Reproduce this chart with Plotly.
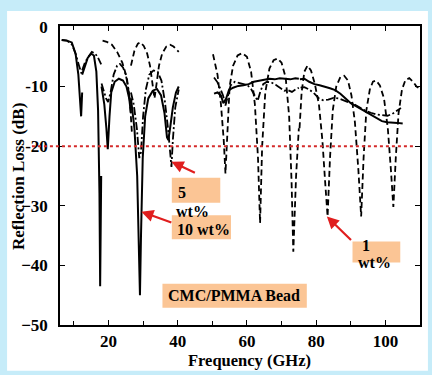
import plotly.graph_objects as go

# ---------------- data ----------------
# 1 wt% (dashed)
f_1wt = [18.3, 19.5, 21.0, 22.5, 24.0, 25.3, 26.2, 26.8, None,
         26.5, 27.5, 28.5, 29.2, 30.2, 31.2, 32.0, 32.7, 33.3, 33.9, 34.6, 35.5, 36.7, 37.8, 38.8, 40.3, None,
         50.2, 51.5, 52.5, 53.3, 53.8, 54.3, 55.0, 56.0, 57.3, 58.6, 60.0, 61.2, 62.3, 63.2, 63.8, 64.4, 65.3,
         66.5, 67.7, 68.9, 70.0, 71.2, 72.2, 72.9, 73.4, 74.2, 75.0, None,
         75.2, 75.8, 76.6, 77.5, 78.5, 79.6, 80.8, 81.8, 82.6, 83.3, 84.0, 84.8, 85.8, 87.0, 88.1, 89.2, 90.2,
         91.2, 92.2, 93.0, 93.7, 94.5, 95.5, 96.4, 97.3, 98.4, 99.6, 100.7, 101.6, 102.3, 103.0, 103.8, 104.8,
         105.8, 106.9, 108.0, 109.0, 110.0]
rl_1wt = [-2.3, -2.5, -3.0, -4.2, -6.0, -8.5, -12.5, -18.0, None,
          -6.5, -4.0, -2.8, -2.6, -3.2, -4.5, -6.5, -9.5, -12.0, -9.5, -6.5, -4.5, -3.3, -3.0, -3.3, -4.2, None,
          -4.6, -8.0, -13.0, -19.0, -24.6, -18.0, -10.0, -6.5, -4.8, -4.4, -5.0, -7.5, -13.0, -22.0, -32.9, -20.0, -11.0,
          -7.0, -5.6, -5.3, -6.0, -8.5, -15.0, -26.0, -37.7, -25.0, -17.0, None,
          -17.0, -11.0, -7.5, -6.5, -7.3, -9.5, -13.0, -19.0, -26.0, -31.8, -22.0, -14.0, -10.0, -8.4, -8.2, -9.0, -11.5,
          -16.0, -24.0, -31.8, -22.0, -14.0, -10.5, -9.2, -9.0, -9.8, -12.0, -17.0, -24.0, -30.2, -22.0, -14.5, -10.5,
          -8.9, -8.6, -9.2, -10.0, -10.4]

# 5 wt% (dash-dot)
f_5wt = [6.5, 8.0, 9.5, 10.5, 11.5, 12.2, 12.4, None,
         12.4, 13.2, 14.2, 15.2, 16.2, 17.0, 17.9, None,
         18.0, 18.6, 19.3, 19.9, 20.6, 21.5, 22.5, 23.3, 24.2, 25.0, 25.8, 26.5, None,
         26.5, 27.3, 28.2, 28.9, 29.4, 30.0, 30.8, 31.8, 33.0, 34.2, 35.3, 36.3, 37.2, 37.8, 38.2, 38.6, 39.3, 40.3, None,
         50.5, 51.5, 52.4, 53.1, 53.8, 54.5, 55.3, 56.5, 57.8, 59.0, 60.2, 61.3, 62.3, 63.1, 63.8, 64.7, 65.8,
         67.0, 68.3, 69.6, 70.8, 71.8, 73.0, 74.0, 75.0, None,
         75.5, 76.6, 78.0, 79.5, 80.8, 82.0, 83.5, 85.0, 86.5, 88.0, 89.5, 91.0, 92.5, 94.0, 95.8, 97.5, 99.0,
         100.6, 102.0, 103.2, 104.5]
rl_5wt = [-2.2, -2.3, -3.0, -4.5, -6.5, -7.8, -7.5, None,
          -7.3, -6.0, -5.0, -4.2, -4.5, -5.2, -6.3, None,
          -9.5, -10.5, -12.0, -12.6, -11.0, -8.0, -6.5, -6.2, -6.8, -8.0, -10.5, -14.0, None,
          -11.0, -13.0, -17.0, -22.0, -21.0, -15.0, -10.5, -8.0, -7.3, -7.5, -9.0, -12.5, -17.0, -21.0, -23.5, -19.0, -13.5, -10.5, None,
          -8.5, -9.3, -10.5, -11.5, -13.2, -11.5, -9.8, -9.2, -9.4, -9.5, -9.8, -10.5, -11.5, -12.4, -11.0, -9.6, -9.2,
          -9.3, -9.7, -10.2, -10.7, -10.6, -10.9, -10.5, -10.2, None,
          -10.2, -10.1, -10.5, -11.2, -12.0, -12.3, -12.2, -11.9, -12.0, -12.3, -12.6, -13.0, -13.5, -14.0, -14.4, -14.7, -14.8,
          -14.9, -14.6, -14.1, -13.6]

# 10 wt% (solid)
f_10wt = [6.5, 8.0, 9.4, 10.5, 11.3, 11.8, 12.1, 12.4, None,
          12.4, 13.2, 14.0, 15.0, 15.8, 16.5, 17.0, 17.4, 17.6, 17.9, None,
          18.0, 18.8, 19.4, 19.8, 20.3, 20.8, 21.8, 23.0, 24.2, 25.2, 26.0, 26.5, None,
          26.5, 27.5, 28.3, 28.8, 29.1, 29.4, 29.9, 30.6, 31.5, 32.8, 34.0, 35.2, 36.2, 36.9, 37.3, 37.8, 38.6, 39.5, 40.3, None,
          50.5, 51.5, 52.5, 53.2, 54.0, 54.8, 56.0, 57.5, 59.0, 60.5, 62.0, 63.5, 65.0, 66.5, 68.0, 69.5, 71.0,
          72.5, 74.0, 75.0, None,
          75.3, 76.6, 78.0, 79.5, 81.0, 82.5, 84.0, 85.5, 87.0, 88.5, 90.0, 91.5, 93.0, 94.5, 96.0, 97.5, 99.0,
          100.5, 102.0, 103.5, 105.0]
rl_10wt = [-2.2, -2.3, -2.6, -4.5, -8.0, -12.0, -15.0, -11.0, None,
           -8.0, -6.5, -5.2, -4.5, -4.8, -7.5, -14.0, -28.0, -43.5, -25.0, None,
           -10.0, -13.0, -17.0, -20.5, -15.0, -11.0, -9.2, -8.7, -9.0, -10.0, -12.0, -14.5, None,
           -12.0, -17.0, -25.0, -38.0, -45.0, -35.0, -22.0, -15.0, -12.0, -10.7, -10.4, -11.5, -14.5, -18.5, -19.0, -17.0, -13.5, -11.0, -10.0, None,
           -11.2, -11.0, -11.5, -12.8, -12.0, -10.6, -10.2, -9.9, -9.8, -9.6, -9.2, -9.0, -8.8, -8.7, -8.8, -8.6, -8.7,
           -8.8, -8.6, -8.7, None,
           -8.8, -8.7, -9.2, -9.6, -9.8, -10.0, -10.3, -10.6, -11.2, -12.0, -12.8, -13.3, -13.8, -14.3, -14.8, -15.3, -15.8,
           -16.0, -16.0, -16.1, -16.2]

threshold_db = -20
y_tickvals = [0, -10, -20, -30, -40, -50]
y_ticktext = ["0", "-10", "-20", "\u221230", "\u221240", "\u221250"]
x_tickvals = [20, 40, 60, 80, 100]
x_ticktext = ["20", "40", "60", "80", "100"]

# ---------------- figure ----------------
SERIF = "Liberation Serif"
fig = go.Figure()

fig.add_trace(go.Scatter(x=f_1wt, y=rl_1wt, mode="lines", name="1 wt%",
                         line=dict(color="black", width=1.8, dash="6px,3.5px"), connectgaps=False))
fig.add_trace(go.Scatter(x=f_5wt, y=rl_5wt, mode="lines", name="5 wt%",
                         line=dict(color="black", width=1.8, dash="8px,2.5px,2px,2.5px"), connectgaps=False))
fig.add_trace(go.Scatter(x=f_10wt, y=rl_10wt, mode="lines", name="10 wt%",
                         line=dict(color="black", width=2.0), connectgaps=False))

shapes = []
# white inner panel on the light-blue page
shapes.append(dict(type="rect", xref="paper", yref="paper", x0=-0.147, x1=1.022, y0=-0.153, y1=1.05,
                   fillcolor="white", line=dict(width=0), layer="below"))
# -20 dB red dotted line (extends over the tick labels)
shapes.append(dict(type="line", xref="paper", yref="y", x0=-0.078, x1=0.985, y0=threshold_db, y1=threshold_db,
                   line=dict(color="#d42a2a", width=2, dash="dot"), layer="above"))

box = "#fbc595"
def boxrect(x0, x1, y0, y1):
    return dict(type="rect", xref="x", yref="y", x0=x0, x1=x1, y0=y0, y1=y1,
                fillcolor=box, line=dict(width=0), layer="above")

shapes.append(boxrect(38.3, 52.3, -25.3, -29.5))   # 5
shapes.append(boxrect(38.3, 55.4, -31.6, -35.6))   # 10 wt%
shapes.append(boxrect(90.5, 104.3, -36.0, -39.5))  # 1
shapes.append(boxrect(35.6, 77.3, -43.1, -47.1))   # CMC/PMMA Bead

annotations = []
tfont = dict(family=SERIF, size=16, color="black")
def label(x, y, text):
    annotations.append(dict(x=x, y=y, xref="x", yref="y", text="<b>%s</b>" % text, showarrow=False,
                            xanchor="left", yanchor="middle", font=tfont))

label(39.5, -27.8, "5")
label(38.9, -31.0, "wt%")
label(39.3, -33.9, "10 wt%")
label(92.6, -36.6, "1")
label(91.5, -39.6, "wt%")
label(36.6, -45.1, "CMC/PMMA Bead")

def arrow(hx, hy, tx, ty):
    annotations.append(dict(x=hx, y=hy, ax=tx, ay=ty, xref="x", yref="y", axref="x", ayref="y",
                            text="", showarrow=True, arrowhead=2, arrowsize=1.1, arrowwidth=2.2,
                            arrowcolor="#e01e1e"))

arrow(38.2, -22.6, 45.4, -24.6)
arrow(29.5, -31.0, 38.6, -32.9)
arrow(83.1, -31.8, 90.5, -36.0)

# axis titles placed as annotations (paper coords)
annotations.append(dict(x=(249 - 60) / 360.0, y=(325 - 360) / 299.0, xref="paper", yref="paper",
                        text="<b>Frequency (GHz)</b>", showarrow=False, xanchor="center", yanchor="middle",
                        font=dict(family=SERIF, size=16.5, color="black")))
annotations.append(dict(x=(18 - 60) / 360.0, y=(325 - 177) / 299.0, xref="paper", yref="paper",
                        text="<b>Reflection Loss (dB)</b>", showarrow=False, xanchor="center", yanchor="middle",
                        textangle=-90, font=dict(family=SERIF, size=17, color="black")))

fig.update_layout(
    width=432, height=375,
    margin=dict(l=60, r=12, t=26, b=50, autoexpand=False),
    paper_bgcolor="#c6ecf9",
    plot_bgcolor="white",
    showlegend=False,
    shapes=shapes,
    annotations=annotations,
    font=dict(family=SERIF, size=16, color="black"),
)

fig.update_xaxes(range=[6, 110], tickvals=x_tickvals, ticktext=["<b>%s</b>" % t for t in x_ticktext],
                 ticks="inside", ticklen=5, tickcolor="black", tickwidth=1.3,
                 minor=dict(dtick=10, tick0=0, ticks="inside", ticklen=4, tickcolor="black"),
                 showline=True, linecolor="black", linewidth=1.5, mirror="ticks",
                 showgrid=False, zeroline=False, automargin=False,
                 tickfont=dict(family=SERIF, size=17, color="black"))
fig.update_yaxes(range=[-50, 0.15], tickvals=y_tickvals, ticktext=["<b>%s</b>" % t for t in y_ticktext],
                 ticks="inside", ticklen=5, tickcolor="black", tickwidth=1.3,
                 showline=True, linecolor="black", linewidth=1.5, mirror="ticks",
                 showgrid=False, zeroline=False, automargin=False, ticklabelstandoff=7,
                 tickfont=dict(family=SERIF, size=17, color="black"))

fig.write_html("out.html", config={"displayModeBar": False},
               post_script="document.body.style.margin='0px';document.body.style.padding='0px';"
                           "document.body.style.background='#c6ecf9';")
